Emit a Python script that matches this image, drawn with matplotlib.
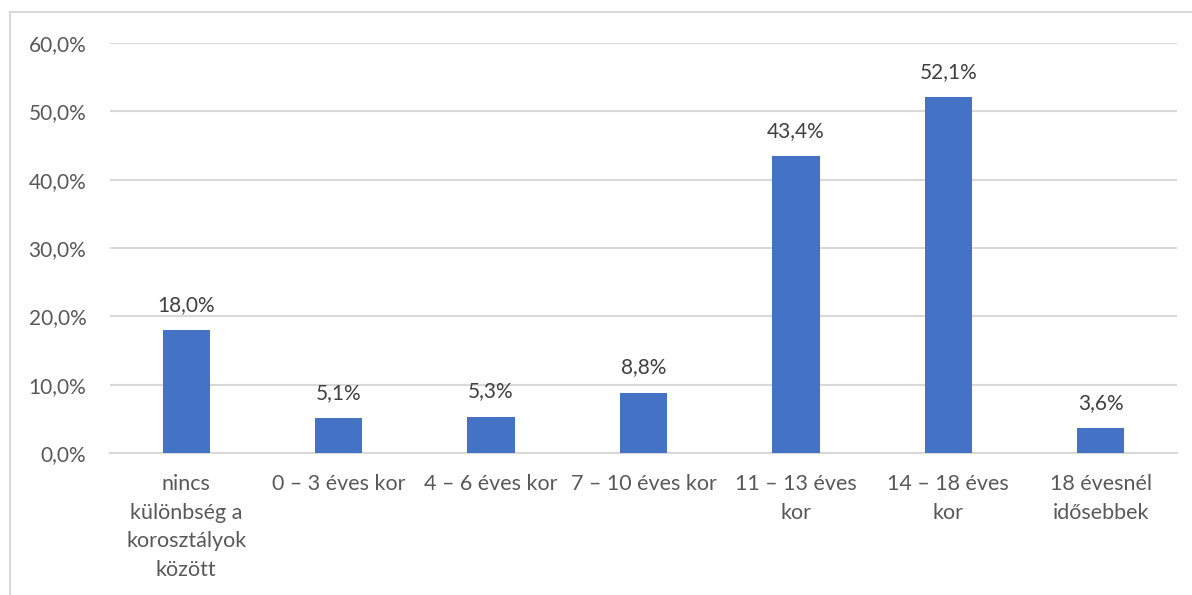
import matplotlib
matplotlib.use("Agg")
import matplotlib.pyplot as plt
from matplotlib.patches import Rectangle

categories = ["nincs\nkülönbség a\nkorosztályok\nközött", "0 – 3 éves kor", "4 – 6 éves kor",
              "7 – 10 éves kor", "11 – 13 éves\nkor", "14 – 18 éves\nkor", "18 évesnél\nidősebbek"]
values = [18.0, 5.1, 5.3, 8.8, 43.4, 52.1, 3.6]
yticks = [0, 10, 20, 30, 40, 50, 60]

plt.rcParams['font.family'] = ['Lato', 'DejaVu Sans']
fig = plt.figure(figsize=(11.92, 5.95), dpi=100)
ax = fig.add_axes([110/1192, 1-453/595, (1177-110)/1192, (453-43)/595])

x = range(len(categories))
bars = ax.bar(x, values, width=0.31, color="#4472C4", zorder=3)
for xi, v in zip(x, values):
    ax.annotate(f"{v:.1f}".replace(".", ",") + "%", (xi, v), xytext=(0, 11),
                textcoords="offset points", ha="center", va="bottom",
                fontsize=15, color="#404040")

ax.set_xlim(-0.5, len(categories) - 0.5)
ax.set_ylim(0, 60)
ax.set_yticks(yticks)
ax.set_yticklabels([f"{t:.1f}".replace(".", ",") + "%" for t in yticks], fontsize=15, color="#595959")
ax.set_xticks(list(x))
ax.set_xticklabels(categories, fontsize=15.5, color="#595959", linespacing=1.55)
ax.tick_params(axis="both", length=0)
ax.tick_params(axis="y", pad=17)
ax.tick_params(axis="x", pad=15)
ax.grid(axis="y", color="#D9D9D9", linewidth=1.5, zorder=0)
for s in ["top", "right", "left"]:
    ax.spines[s].set_visible(False)
ax.spines["bottom"].set_color("#D9D9D9")
ax.spines["bottom"].set_linewidth(1.5)

fig.patches.append(Rectangle((10/1192, -0.05), 1.1, 1 - 12/595 + 0.05, transform=fig.transFigure,
                             fill=False, edgecolor="#D9D9D9", linewidth=1.5))

fig.savefig("out.png", dpi=100)
